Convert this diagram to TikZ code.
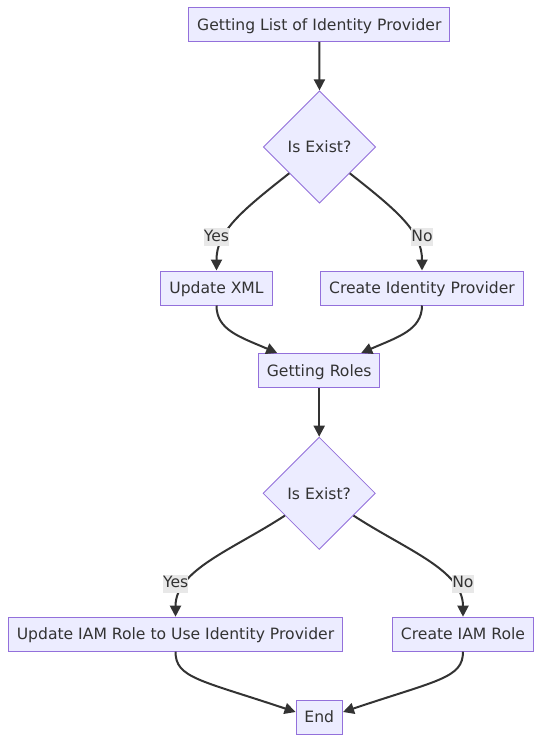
\documentclass[tikz,border=0pt]{standalone}
\usepackage{fontspec}
\setmainfont{DejaVu Sans}
\usepackage{xcolor}
\usepackage{tikz}
\usetikzlibrary{shapes.geometric}
\usetikzlibrary{arrows.meta}
\definecolor{boxfill}{HTML}{ECECFF}
\definecolor{boxline}{HTML}{9370DB}
\definecolor{ink}{HTML}{333333}
\definecolor{labelfill}{HTML}{E8E8E8}
\tikzset{
  process/.style={
    draw=boxline, fill=boxfill, line width=1pt, text=ink,
    inner xsep=8.4pt, inner ysep=0pt, minimum height=34pt,
    text height=15pt, text depth=3.6pt,
    font=\fontsize{15.6}{18}\selectfont
  },
  decision/.style={
    diamond, draw=boxline, fill=boxfill, line width=0.8pt, text=ink,
    inner sep=0pt, minimum width=112.4pt, minimum height=112.4pt,
    font=\fontsize{15.6}{18}\selectfont
  },
  flow/.style={
    draw=ink, line width=2pt, -{Triangle[length=11pt,width=11pt]}
  },
  edgelabel/.style={
    fill=labelfill, text=ink, inner sep=0pt,
    text height=12.9pt, text depth=4.8pt,
    font=\fontsize{15.6}{18}\selectfont
  }
}

\begin{document}
\begin{tikzpicture}[x=1pt,y=-1pt]
	\useasboundingbox (0,0) rectangle (549,753);
	\node[process] (getlist) at (319.3,24.3) {Getting List of Identity Provider};
	\node[decision] (exist1) at (319.5,147) {Is Exist?};
	\node[process] (updxml) at (216.5,288) {Update XML};
	\node[process] (createidp) at (422,288) {Create Identity Provider};
	\node[process] (roles) at (319.2,370.5) {Getting Roles};
	\node[decision] (exist2) at (319.2,493.3) {Is Exist?};
	\node[process] (updrole) at (175.5,634.2) {Update IAM Role to Use Identity Provider};
	\node[process] (createrole) at (463,634.2) {Create IAM Role};
	\node[process] (finish) at (319.3,717) {End};
	\draw[flow] (getlist.south) -- (exist1.north);
	\draw[flow] (exist1.221) .. controls (240,212) and (216.5,232) .. (updxml.north) node[edgelabel] (yes1) at (216.5,237) {Yes};
	\draw[flow] (exist1.319) .. controls (399,212) and (422,232) .. (createidp.north) node[edgelabel] (no1) at (422,237) {No};
	\draw[flow] (updxml.south) .. controls (216.5,330) and (240,337) .. ([xshift=-42pt]roles.north);
	\draw[flow] (createidp.south) .. controls (422,330) and (398,337) .. ([xshift=42pt]roles.north);
	\draw[flow] (roles.south) -- (exist2.north);
	\draw[flow] (exist2.213) .. controls (232,550) and (175.5,570) .. (updrole.north) node[edgelabel] (yes2) at (175.7,583.8) {Yes};
	\draw[flow] (exist2.327) .. controls (406.4,550) and (463,570) .. (createrole.north) node[edgelabel] (no2) at (462.9,583.8) {No};
	\draw[flow] (updrole.south) .. controls (175.5,678) and (200,680) .. ([yshift=5pt]finish.west);
	\draw[flow] (createrole.south) .. controls (463,678) and (438.4,680) .. ([yshift=5pt]finish.east);
\end{tikzpicture}
\end{document}
